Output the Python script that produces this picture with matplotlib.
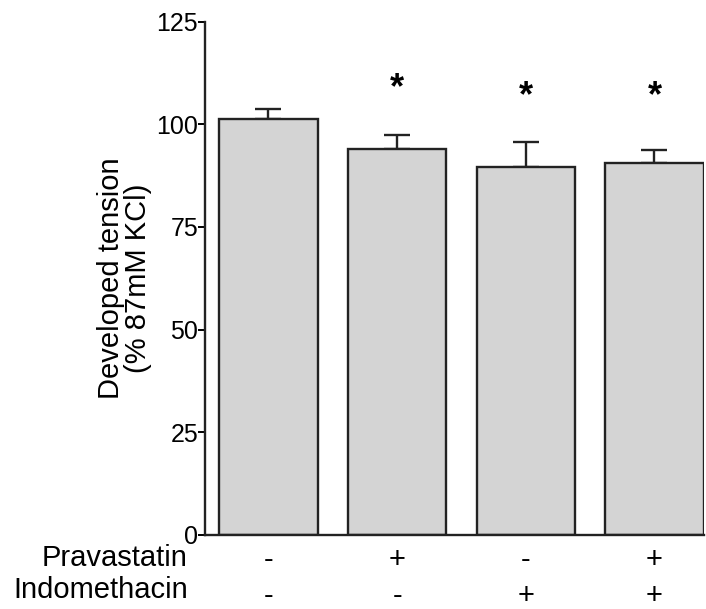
import numpy as np
import matplotlib.pyplot as plt

plt.rcParams['font.family'] = ['Liberation Sans', 'DejaVu Sans']

# valores
groups = ["ctrl", "prava", "indo", "prava+indo"]
means = [101.3, 94.1, 89.7, 90.7]
sem = [2.6, 3.3, 6.0, 3.0]
star_y = [None, 108.8, 106.8, 106.8]   # None = sem asterisco
prava_row = ["-", "+", "-", "+"]
indo_row = ["-", "-", "+", "+"]
yticks = [0, 25, 50, 75, 100, 125]

fig = plt.figure(figsize=(7.06, 6.09), dpi=100)
ax = fig.add_axes([0.2904, 0.1223, 0.7068, 0.8416])

x = np.arange(len(groups))
ax.bar(x, means, width=0.765, color="#d4d4d4", edgecolor="#222222", linewidth=1.7, zorder=2)
ax.errorbar(x, means, yerr=[np.zeros(len(sem)), sem], fmt="none", ecolor="#222222",
            elinewidth=1.7, capsize=9.5, capthick=1.7, zorder=1)

for xi, sy in zip(x, star_y):
    if sy is not None:
        ax.text(xi, sy, "*", ha="center", va="center", fontsize=26, fontweight="bold")

ax.set_xlim(-0.493, 3.385)
ax.set_ylim(0, 125)
ax.set_yticks(yticks)
ax.set_xticks([])
ax.tick_params(axis="y", labelsize=18, length=5, width=1.4, pad=0, direction="out")
for side in ["top", "right"]:
    ax.spines[side].set_visible(False)
for side in ["left", "bottom"]:
    ax.spines[side].set_linewidth(1.7)
    ax.spines[side].set_color("#222222")

ax.set_ylabel("Developed tension\n(% 87mM KCl)", fontsize=21, linespacing=0.95, labelpad=3)

# linhas de tratamento abaixo do eixo
trans = ax.get_xaxis_transform()
for xi, p, i in zip(x, prava_row, indo_row):
    ax.text(xi, -0.05, p, transform=trans, ha="center", va="center", fontsize=21)
    ax.text(xi, -0.12, i, transform=trans, ha="center", va="center", fontsize=21)
fig.text(188 / 706, (609 - 558) / 609, "Pravastatin", ha="right", va="center", fontsize=21)
fig.text(188 / 706, (609 - 590) / 609, "Indomethacin", ha="right", va="center", fontsize=21)

fig.savefig("out.png", dpi=100)
